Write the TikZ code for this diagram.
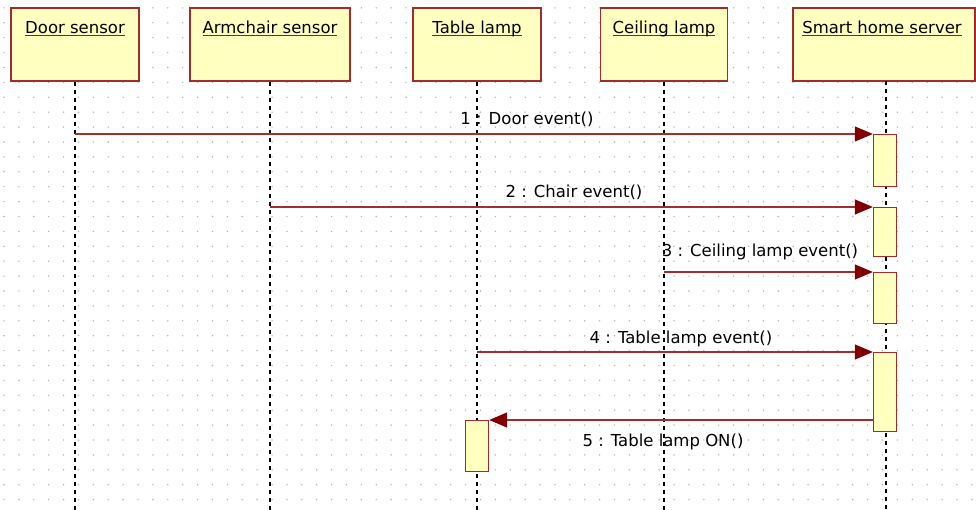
\documentclass[tikz,border=0pt]{standalone}
\usepackage{fontspec}
\setmainfont{DejaVu Sans}
\usepackage{tikz}
\usetikzlibrary{arrows.meta,positioning}

\definecolor{boxfill}{HTML}{FFFFC0}
\definecolor{boxline}{HTML}{A52A2A}
\definecolor{msgline}{HTML}{A03030}
\definecolor{tipred}{HTML}{800000}
\definecolor{dotgray}{HTML}{B4B4B4}

% underlined object name, rule sits just under the baseline
\newcommand{\ulname}[1]{\setbox0\hbox{#1}\rlap{\color[HTML]{404040}\rule[-3pt]{\wd0}{1pt}}\box0}

\begin{document}
\begin{tikzpicture}[x=1pt,y=-1pt,
    obj_box/.style={rectangle,draw=boxline,fill=boxfill,line width=1.4pt,minimum height=73pt,inner sep=0},
    obj_name/.style={anchor=base,inner sep=0,font=\fontsize{16.5}{19}\selectfont},
    act_bar/.style={rectangle,draw=boxline,fill=boxfill,line width=1.4pt,minimum width=23pt,inner sep=0,anchor=north},
    life_line/.style={black,line width=1.3pt,dash pattern=on 4pt off 4pt},
    msg/.style={draw=msgline,line width=1.3pt,-{Triangle[length=18pt,width=15pt,color=tipred]}},
    msg_label/.style={anchor=base,inner sep=0,font=\fontsize{16.5}{19}\selectfont}]
    \useasboundingbox (0,0) rectangle (976,510);
    \fill[white] (0,0) rectangle (976,510);
    \coordinate (bot) at (0,510);
    % dot grid
    \foreach \i in {0,...,65}
        \foreach \j in {0,...,33}
            \fill[dotgray] (4+14.89*\i,7.9+14.9*\j) circle (0.8);
    % objects
    \node[obj_box, minimum width=128pt] (door) at (75,44.5) {};
    \node[obj_box, minimum width=160pt] (chair) at (270,44.5) {};
    \node[obj_box, minimum width=128pt] (table) at (477,44.5) {};
    \node[obj_box, minimum width=127pt] (ceil) at (664,44.5) {};
    \node[obj_box, minimum width=182pt] (server) at (884,44.5) {};
    \node[obj_name] (door_name) at ([yshift=-26pt]door.north) {\ulname{Door sensor}};
    \node[obj_name] (chair_name) at ([yshift=-26pt]chair.north) {\ulname{Armchair sensor}};
    \node[obj_name] (table_name) at ([yshift=-26pt]table.north) {\ulname{Table lamp}};
    \node[obj_name] (ceil_name) at ([yshift=-26pt]ceil.north) {\ulname{Ceiling lamp}};
    \node[obj_name] (server_name) at ([xshift=-2pt,yshift=-26pt]server.north) {\ulname{Smart home server}};
    % lifelines
    \draw[life_line] (door.south) -- (door.south |- bot);
    \draw[life_line] (chair.south) -- (chair.south |- bot);
    \draw[life_line] (table.south) -- (table.south |- bot);
    \draw[life_line] (ceil.south) -- (ceil.south |- bot);
    \draw[life_line] (886,81) -- (886,510);
    % activations
    \node[act_bar, minimum height=52pt] (act1) at (885,134) {};
    \node[act_bar, minimum height=49pt] (act2) at (885,207) {};
    \node[act_bar, minimum height=51pt] (act3) at (885,272) {};
    \node[act_bar, minimum height=79pt] (act4) at (885,352) {};
    \node[act_bar, minimum height=51pt] (act5) at (477,420) {};
    % messages
    \draw[msg] (door.south |- act1.north) -- (act1.north west);
    \draw[msg] (chair.south |- act2.north) -- (act2.north west);
    \draw[msg] (ceil.south |- act3.north) -- (act3.north west);
    \draw[msg] (table.south |- act4.north) -- (act4.north west);
    \draw[msg] (act4.west |- act5.north) -- (act5.north east);
    \node[msg_label] (m1) at (527,125) {1 : Door event()};
    \node[msg_label] (m2) at (574,198) {2 : Chair event()};
    \node[msg_label] (m3) at (760,257) {3 : Ceiling lamp event()};
    \node[msg_label] (m4) at (681,343) {4 : Table lamp event()};
    \node[msg_label] (m5) at (663,446) {5 : Table lamp ON()};
\end{tikzpicture}
\end{document}
